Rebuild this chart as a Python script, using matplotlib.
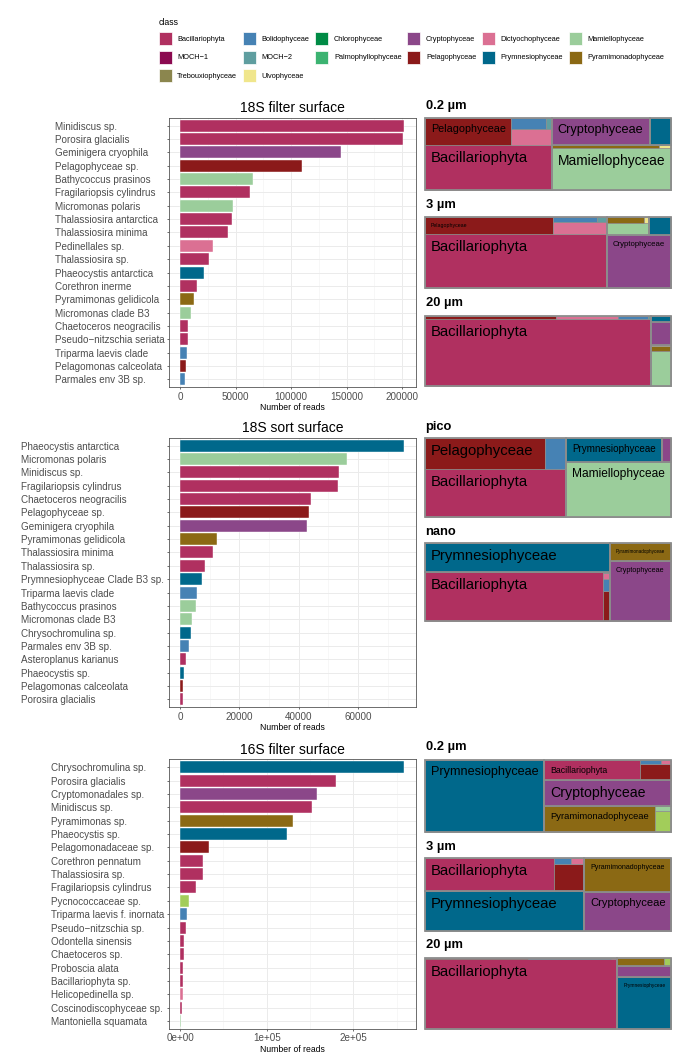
import matplotlib
matplotlib.use("Agg")
import matplotlib.pyplot as plt
from matplotlib.patches import Rectangle, Patch
from matplotlib.ticker import MultipleLocator
import numpy as np

plt.rcParams["font.family"] = ["Liberation Sans", "DejaVu Sans"]

W, H = 685, 1063
DPI = 100

class_colors = {
    "Bacillariophyta": "#B03060",
    "Bolidophyceae": "#4682B4",
    "Chlorophyceae": "#008B45",
    "Cryptophyceae": "#8B4789",
    "Dictyochophyceae": "#DB7093",
    "Mamiellophyceae": "#9BCD9B",
    "MOCH-1": "#8B0A50",
    "MOCH-2": "#5F9EA0",
    "Palmophyllophyceae": "#3CB371",
    "Pelagophyceae": "#8B1A1A",
    "Prymnesiophyceae": "#00688B",
    "Pyramimonadophyceae": "#8B6914",
    "Trebouxiophyceae": "#8B864E",
    "Ulvophyceae": "#F0E68C",
    "Pseudoscourfieldiales": "#A2CD5A",
}

division = {
    "Bacillariophyta": "Ochrophyta", "Bolidophyceae": "Ochrophyta",
    "Dictyochophyceae": "Ochrophyta", "MOCH-1": "Ochrophyta",
    "MOCH-2": "Ochrophyta", "Pelagophyceae": "Ochrophyta",
    "Chlorophyceae": "Chlorophyta", "Mamiellophyceae": "Chlorophyta",
    "Palmophyllophyceae": "Chlorophyta", "Pyramimonadophyceae": "Chlorophyta",
    "Trebouxiophyceae": "Chlorophyta", "Ulvophyceae": "Chlorophyta",
    "Pseudoscourfieldiales": "Chlorophyta",
    "Cryptophyceae": "Cryptophyta", "Prymnesiophyceae": "Haptophyta",
}

legend_classes = ["Bacillariophyta", "Bolidophyceae", "Chlorophyceae", "Cryptophyceae",
                  "Dictyochophyceae", "Mamiellophyceae", "MOCH-1", "MOCH-2",
                  "Palmophyllophyceae", "Pelagophyceae", "Prymnesiophyceae",
                  "Pyramimonadophyceae", "Trebouxiophyceae", "Ulvophyceae"]

# ---- 18S filter surface
f18_names = ["Minidiscus sp.", "Porosira glacialis", "Geminigera cryophila", "Pelagophyceae sp.",
             "Bathycoccus prasinos", "Fragilariopsis cylindrus", "Micromonas polaris",
             "Thalassiosira antarctica", "Thalassiosira minima", "Pedinellales sp.",
             "Thalassiosira sp.", "Phaeocystis antarctica", "Corethron inerme",
             "Pyramimonas gelidicola", "Micromonas clade B3", "Chaetoceros neogracilis",
             "Pseudo\u2212nitzschia seriata", "Triparma laevis clade", "Pelagomonas calceolata",
             "Parmales env 3B sp."]
f18_reads = [201900, 200400, 144900, 109800, 66000, 63000, 47400, 46800, 42900, 29100,
             26100, 21000, 15000, 12600, 9600, 6900, 6600, 6000, 5100, 4500]
f18_class = ["Bacillariophyta", "Bacillariophyta", "Cryptophyceae", "Pelagophyceae",
             "Mamiellophyceae", "Bacillariophyta", "Mamiellophyceae", "Bacillariophyta",
             "Bacillariophyta", "Dictyochophyceae", "Bacillariophyta", "Prymnesiophyceae",
             "Bacillariophyta", "Pyramimonadophyceae", "Mamiellophyceae", "Bacillariophyta",
             "Bacillariophyta", "Bolidophyceae", "Pelagophyceae", "Bolidophyceae"]

# ---- 18S sort surface
s18_names = ["Phaeocystis antarctica", "Micromonas polaris", "Minidiscus sp.",
             "Fragilariopsis cylindrus", "Chaetoceros neogracilis", "Pelagophyceae sp.",
             "Geminigera cryophila", "Pyramimonas gelidicola", "Thalassiosira minima",
             "Thalassiosira sp.", "Prymnesiophyceae Clade B3 sp.", "Triparma laevis clade",
             "Bathycoccus prasinos", "Micromonas clade B3", "Chrysochromulina sp.",
             "Parmales env 3B sp.", "Asteroplanus karianus", "Phaeocystis sp.",
             "Pelagomonas calceolata", "Porosira glacialis"]
s18_reads = [75600, 56400, 53700, 53300, 44200, 43400, 42800, 12500, 11000, 8200,
             7500, 5500, 5200, 4000, 3600, 2900, 1900, 1200, 1100, 900]
s18_class = ["Prymnesiophyceae", "Mamiellophyceae", "Bacillariophyta", "Bacillariophyta",
             "Bacillariophyta", "Pelagophyceae", "Cryptophyceae", "Pyramimonadophyceae",
             "Bacillariophyta", "Bacillariophyta", "Prymnesiophyceae", "Bolidophyceae",
             "Mamiellophyceae", "Mamiellophyceae", "Prymnesiophyceae", "Bolidophyceae",
             "Bacillariophyta", "Prymnesiophyceae", "Pelagophyceae", "Bacillariophyta"]

# ---- 16S filter surface
f16_names = ["Chrysochromulina sp.", "Porosira glacialis", "Cryptomonadales sp.", "Minidiscus sp.",
             "Pyramimonas sp.", "Phaeocystis sp.", "Pelagomonadaceae sp.", "Corethron pennatum",
             "Thalassiosira sp.", "Fragilariopsis cylindrus", "Pycnococcaceae sp.",
             "Triparma laevis f. inornata", "Pseudo\u2212nitzschia sp.", "Odontella sinensis",
             "Chaetoceros sp.", "Proboscia alata", "Bacillariophyta sp.", "Helicopedinella sp.",
             "Coscinodiscophyceae sp.", "Mantoniella squamata"]
f16_reads = [258800, 179600, 158100, 152300, 130800, 123500, 33800, 26200, 26200, 17700,
             10000, 7300, 6900, 4600, 4600, 3800, 3100, 2700, 1500, 400]
f16_class = ["Prymnesiophyceae", "Bacillariophyta", "Cryptophyceae", "Bacillariophyta",
             "Pyramimonadophyceae", "Prymnesiophyceae", "Pelagophyceae", "Bacillariophyta",
             "Bacillariophyta", "Bacillariophyta", "Pseudoscourfieldiales", "Bolidophyceae",
             "Bacillariophyta", "Bacillariophyta", "Bacillariophyta", "Bacillariophyta",
             "Bacillariophyta", "Dictyochophyceae", "Bacillariophyta", "Mamiellophyceae"]

# ---- treemaps (% of reads per class)
tm_f18_02_class = ["Bacillariophyta", "Mamiellophyceae", "Cryptophyceae", "Pelagophyceae",
                   "Dictyochophyceae", "Prymnesiophyceae", "Bolidophyceae",
                   "Pyramimonadophyceae", "MOCH-2", "Ulvophyceae"]
tm_f18_02_pct = [32.2, 28.3, 15.0, 13.2, 3.6, 3.2, 2.2, 1.8, 0.4, 0.2]

tm_f18_3_class = ["Bacillariophyta", "Cryptophyceae", "Pelagophyceae", "Dictyochophyceae",
                  "Mamiellophyceae", "Prymnesiophyceae", "Bolidophyceae",
                  "Pyramimonadophyceae", "MOCH-2", "Ulvophyceae"]
tm_f18_3_pct = [56.2, 19.7, 12.4, 3.76, 2.9, 2.24, 1.2, 1.18, 0.26, 0.15]

tm_f18_20_class = ["Bacillariophyta", "Mamiellophyceae", "Pelagophyceae", "Cryptophyceae",
                   "Dictyochophyceae", "Prymnesiophyceae", "Bolidophyceae",
                   "Pyramimonadophyceae", "Ulvophyceae", "MOCH-2"]
tm_f18_20_pct = [87.2, 4.0, 2.72, 2.6, 1.27, 0.69, 0.64, 0.55, 0.13, 0.06]

tm_pico_class = ["Bacillariophyta", "Mamiellophyceae", "Pelagophyceae", "Prymnesiophyceae",
                 "Bolidophyceae", "Cryptophyceae"]
tm_pico_pct = [34.9, 29.6, 19.1, 11.9, 3.4, 1.1]

tm_nano_class = ["Bacillariophyta", "Prymnesiophyceae", "Cryptophyceae", "Pyramimonadophyceae",
                 "Pelagophyceae", "Bolidophyceae", "Dictyochophyceae", "MOCH-2"]
tm_nano_pct = [45.7, 27.5, 19.3, 5.6, 1.13, 0.43, 0.22, 0.06]

tm_f16_02_class = ["Prymnesiophyceae", "Cryptophyceae", "Pyramimonadophyceae", "Bacillariophyta",
                   "Pelagophyceae", "Pseudoscourfieldiales", "Mamiellophyceae",
                   "Bolidophyceae", "Dictyochophyceae"]
tm_f16_02_pct = [48.1, 18.0, 16.3, 10.9, 2.8, 1.8, 0.52, 0.52, 0.25]

tm_f16_3_class = ["Prymnesiophyceae", "Bacillariophyta", "Cryptophyceae", "Pyramimonadophyceae",
                  "Pelagophyceae", "Bolidophyceae", "Dictyochophyceae"]
tm_f16_3_pct = [35.7, 23.5, 18.9, 16.5, 4.45, 0.57, 0.44]

tm_f16_20_class = ["Bacillariophyta", "Prymnesiophyceae", "Cryptophyceae", "Pyramimonadophyceae",
                   "Pelagophyceae", "Bolidophyceae", "Pseudoscourfieldiales", "Dictyochophyceae"]
tm_f16_20_pct = [76.8, 15.9, 3.45, 2.14, 0.75, 0.6, 0.3, 0.05]


fig = plt.figure(figsize=(W / DPI, H / DPI), dpi=DPI)
renderer = fig.canvas.get_renderer()


def px_axes(l, t, r, b):
    return fig.add_axes([l / W, 1 - b / H, (r - l) / W, (b - t) / H])


def bar_panel(box, title, names, reads, classes, ticks, ticklabels, minor):
    ax = px_axes(*box)
    y = np.arange(len(names))
    ax.barh(y, reads, height=0.9, color=[class_colors[c] for c in classes],
            edgecolor="white", linewidth=0.3, zorder=3)
    m = max(reads)
    ax.set_xlim(-0.05 * m, 1.05 * m)
    ax.set_ylim(len(names) - 0.4, -0.6)
    ax.set_xticks(ticks)
    ax.set_xticklabels(ticklabels)
    ax.xaxis.set_minor_locator(MultipleLocator(minor))
    ax.set_yticks(y)
    ax.set_yticklabels(names, ha="left")
    ax.set_axisbelow(True)
    ax.grid(True, which="major", color="#EBEBEB", lw=0.7)
    ax.grid(True, which="minor", axis="x", color="#F3F3F3", lw=0.45)
    for s in ax.spines.values():
        s.set_color("#555555")
        s.set_linewidth(0.6)
    ax.tick_params(which="minor", length=0)
    ax.tick_params(axis="both", which="major", length=1.6, width=0.5, color="#333333",
                   labelcolor="#4D4D4D", labelsize=7.1)
    ax.tick_params(axis="x", pad=1.5)
    # left-justified y labels: pad them by the widest label
    widest = max(t.get_window_extent(renderer).width for t in ax.get_yticklabels())
    ax.tick_params(axis="y", pad=(widest + 2.5) * 72 / DPI)
    ax.set_title(title, fontsize=10, pad=4)
    ax.set_xlabel("Number of reads", fontsize=6.2, labelpad=1)
    return ax


def worst(row, side):
    s = sum(row)
    return max(max(side * side * r / (s * s), s * s / (side * side * r)) for r in row)


def squarify(vals, x, y, w, h):
    rects = []
    vals = list(vals)
    while vals:
        if len(vals) == 1:
            rects.append((x, y, w, h))
            break
        side = min(w, h)
        row = [vals[0]]
        i = 1
        while i < len(vals) and worst(row + [vals[i]], side) <= worst(row, side):
            row.append(vals[i])
            i += 1
        s = sum(row)
        if w >= h:
            cw = s / h
            yy = y
            for r in row:
                rects.append((x, yy, cw, r / cw))
                yy += r / cw
            x += cw
            w -= cw
        else:
            rh = s / w
            xx = x
            for r in row:
                rects.append((xx, y, r / rh, rh))
                xx += r / rh
            y += rh
            h -= rh
        vals = vals[i:]
    return rects


GREY = "#8C8C8C"
TM_FS = 10.7
PAD = 6.0


def treemap(box, label_y, label, classes, pct):
    ax = px_axes(*box)
    ax.set_xlim(0, 1)
    ax.set_ylim(0, 1)
    ax.axis("off")
    axw = box[2] - box[0]
    axh = box[3] - box[1]
    total = float(sum(pct))
    groups = {}
    for c, v in zip(classes, pct):
        groups.setdefault(division[c], []).append((v / total, c))
    order = sorted(groups, key=lambda g: -sum(v for v, _ in groups[g]))
    grects = squarify([sum(v for v, _ in groups[g]) for g in order], 0, 0, 1, 1)
    for g, (gx, gy, gw, gh) in zip(order, grects):
        items = sorted(groups[g], key=lambda t: -t[0])
        cells = squarify([v for v, _ in items], gx, gy, gw, gh)
        for (v, c), (cx, cy, cw, ch) in zip(items, cells):
            ax.add_patch(Rectangle((cx, cy), cw, ch, facecolor=class_colors[c],
                                   edgecolor=GREY, lw=0.5, clip_on=False))
            t = ax.text(cx + PAD / axw, cy + ch - PAD / axh, c, fontsize=TM_FS,
                        ha="left", va="top", color="black")
            bb = t.get_window_extent(renderer)
            sc = min(1.0, (cw * axw - 2 * PAD) / bb.width, (ch * axh - 2 * PAD) / bb.height)
            if sc * TM_FS < 3.0:
                t.remove()
            else:
                t.set_fontsize(TM_FS * sc)
        ax.add_patch(Rectangle((gx, gy), gw, gh, facecolor="none", edgecolor=GREY,
                               lw=1.3, clip_on=False))
    fig.text(425.5 / W, 1 - label_y / H, label, fontsize=9.3, fontweight="bold",
             ha="left", va="center")


bar_panel((169, 117.7, 415.5, 387.3), "18S filter surface", f18_names, f18_reads, f18_class,
          [0, 50000, 100000, 150000, 200000], ["0", "50000", "100000", "150000", "200000"], 25000)
bar_panel((169, 437.7, 415.5, 707.3), "18S sort surface", s18_names, s18_reads, s18_class,
          [0, 20000, 40000, 60000], ["0", "20000", "40000", "60000"], 10000)
bar_panel((169, 759.3, 415.5, 1029), "16S filter surface", f16_names, f16_reads, f16_class,
          [0, 100000, 200000], ["0e+00", "1e+05", "2e+05"], 50000)

treemap((425, 117.7, 671, 190), 105.7, "0.2 \u00b5m", tm_f18_02_class, tm_f18_02_pct)
treemap((425, 217.3, 671, 288.3), 205, "3 \u00b5m", tm_f18_3_class, tm_f18_3_pct)
treemap((425, 315.7, 671, 386), 303.3, "20 \u00b5m", tm_f18_20_class, tm_f18_20_pct)
treemap((425, 438.3, 671, 516.7), 426.7, "pico", tm_pico_class, tm_pico_pct)
treemap((425, 543.3, 671, 621), 531.7, "nano", tm_nano_class, tm_nano_pct)
treemap((425, 760, 671, 831.7), 746.7, "0.2 \u00b5m", tm_f16_02_class, tm_f16_02_pct)
treemap((425, 858.3, 671, 930.7), 846.7, "3 \u00b5m", tm_f16_3_class, tm_f16_3_pct)
treemap((425, 957.7, 671, 1029), 945, "20 \u00b5m", tm_f16_20_class, tm_f16_20_pct)

# legend, filled by row like ggplot
ncol = 6
ordered = [legend_classes[i] for c in range(ncol) for i in range(c, len(legend_classes), ncol)]
handles = [Patch(facecolor=class_colors[c], edgecolor="white", lw=0.5) for c in ordered]
labels = [c.replace("-", "\u2212") for c in ordered]
fs = 5.3
leg = fig.legend(handles, labels, loc="upper left", bbox_to_anchor=(158.5 / W, 1 - 18 / H),
                 ncol=ncol, frameon=False, fontsize=fs, title="class",
                 title_fontsize=6.3, alignment="left", borderpad=0, borderaxespad=0,
                 handlelength=1.77, handleheight=2.35, handletextpad=0.77,
                 columnspacing=0.78, labelspacing=0.72)

fig.savefig("out.png", dpi=DPI)
